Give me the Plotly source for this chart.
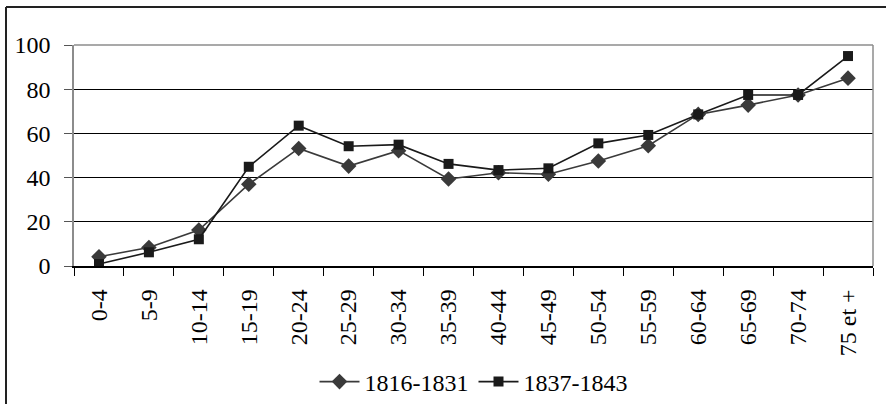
import plotly.graph_objects as go

# Age groups and the two period series
age_groups = ["0-4", "5-9", "10-14", "15-19", "20-24", "25-29", "30-34", "35-39",
              "40-44", "45-49", "50-54", "55-59", "60-64", "65-69", "70-74", "75 et +"]
series_1816_1831 = [4.2, 8.4, 16.3, 37.0, 53.2, 45.2, 52.2, 39.4,
                    42.2, 41.5, 47.5, 54.4, 68.6, 72.8, 77.4, 85.0]
series_1837_1843 = [0.9, 6.2, 12.1, 44.9, 63.5, 54.2, 54.9, 46.2,
                    43.4, 44.2, 55.5, 59.3, 68.6, 77.4, 77.4, 95.0]
y_ticks = [0, 20, 40, 60, 80, 100]

W, H = 886, 404
L, R, T, B = 74, 13, 45, 138
FONT = "Liberation Serif"
FS = 24

fig = go.Figure()
fig.add_trace(go.Scatter(
    x=age_groups, y=series_1816_1831, name="1816-1831", mode="lines+markers",
    line=dict(color="#3a3a3a", width=1.6),
    marker=dict(symbol="diamond", size=12, color="#3a3a3a"),
))
fig.add_trace(go.Scatter(
    x=age_groups, y=series_1837_1843, name="1837-1843", mode="lines+markers",
    line=dict(color="#1a1a1a", width=1.6),
    marker=dict(symbol="square", size=10, color="#1a1a1a"),
))

pw, ph = W - L - R, H - T - B


def px_x(p):
    return (p - L) / pw


def px_y(p):
    return (H - B - p) / ph


shapes = [
    # plot-area frame (top and right) in grey
    dict(type="line", xref="paper", yref="paper", x0=0, x1=1, y0=1, y1=1,
         line=dict(color="#8c8c8c", width=1.5), layer="above"),
    dict(type="line", xref="paper", yref="paper", x0=1, x1=1, y0=0, y1=1,
         line=dict(color="#8c8c8c", width=1.5), layer="above"),
    # outer chart frame
    dict(type="line", xref="paper", yref="paper", x0=px_x(6), x1=px_x(6),
         y0=px_y(7), y1=px_y(420), line=dict(color="#222222", width=2)),
    dict(type="line", xref="paper", yref="paper", x0=px_x(6), x1=px_x(900),
         y0=px_y(7), y1=px_y(7), line=dict(color="#222222", width=2)),
]

fig.update_layout(
    width=W, height=H,
    margin=dict(l=L, r=R, t=T, b=B, autoexpand=False),
    paper_bgcolor="white", plot_bgcolor="white",
    font=dict(family=FONT, size=FS, color="black"),
    showlegend=True,
    legend=dict(orientation="h", x=0.5, xanchor="center",
                yref="container", y=(H - 382) / H, yanchor="middle",
                font=dict(family=FONT, size=FS, color="black"),
                itemwidth=40, tracegroupgap=0, bgcolor="rgba(0,0,0,0)"),
    shapes=shapes,
    xaxis=dict(
        type="category", tickangle=-90, tickson="boundaries",
        ticks="outside", ticklen=8, tickcolor="black", tickwidth=1.2,
        showline=True, linecolor="black", linewidth=1.5,
        showgrid=False, range=[-0.5, 15.5], automargin=False,
        ticklabelstandoff=12,
        tickfont=dict(family=FONT, size=FS, color="black"),
    ),
    yaxis=dict(
        range=[0, 100], tickvals=y_ticks, ticks="outside", ticklen=8,
        tickcolor="#555555", tickwidth=1.2,
        showline=True, linecolor="#8c8c8c", linewidth=1.5,
        showgrid=True, gridcolor="black", gridwidth=1.2,
        zeroline=False, ticklabelstandoff=9, automargin=False,
        tickfont=dict(family=FONT, size=FS, color="black"),
    ),
)

fig.write_html("out.html")
